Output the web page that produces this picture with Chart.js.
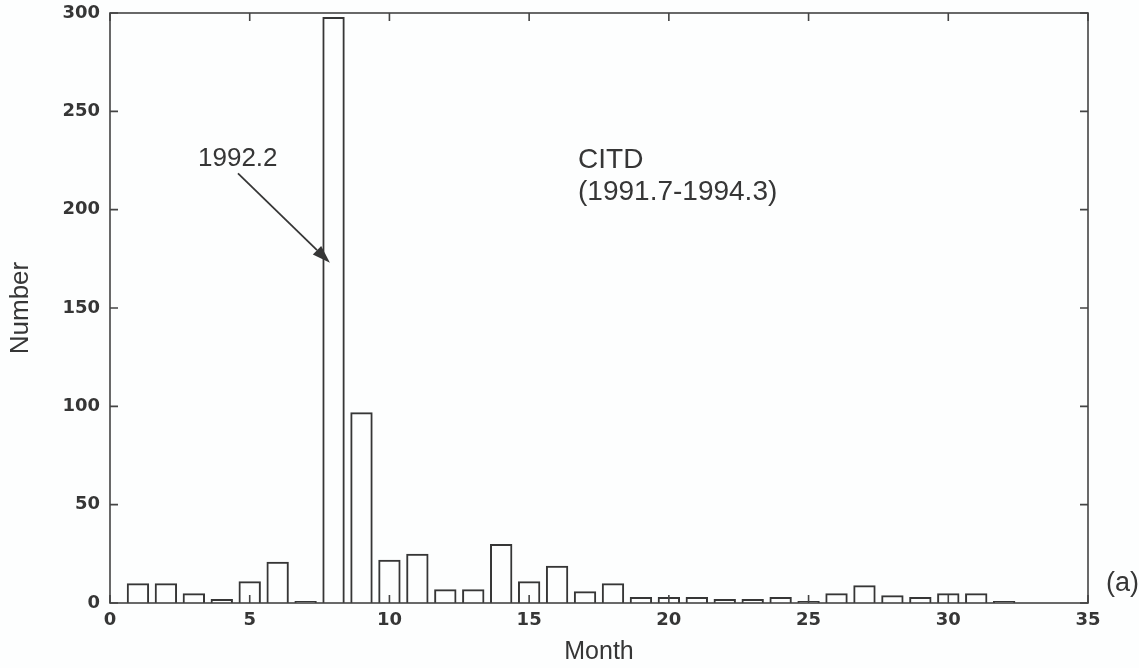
<!DOCTYPE html>
<html>
<head>
<meta charset="utf-8">
<script src="https://cdn.jsdelivr.net/npm/chart.js@4/dist/chart.umd.min.js"></script>
<style>
  html, body { margin: 0; padding: 0; background: #fdfefe; }
  #wrap { width: 1139px; height: 668px; position: relative; }
</style>
</head>
<body>
<div id="wrap"><canvas id="c" width="1139" height="668"></canvas></div>
<script>
// ---- data ----
const months = [1,2,3,4,5,6,7,8,9,10,11,12,13,14,15,16,17,18,19,20,21,22,23,24,25,26,27,28,29,30,31,32];
const counts = [10,10,5,2,11,21,1,298,97,22,25,7,7,30,11,19,6,10,3,3,3,2,2,3,1,5,9,4,3,5,5,1];
const xTickValues = [0,5,10,15,20,25,30,35];
const yTickValues = [0,50,100,150,200,250,300];
const peakLabel = "1992.2";
const periodLines = ["CITD", "(1991.7-1994.3)"];
const panelLabel = "(a)";
// annotation anchors in data units
const peakTextAt = [3.15, 226];
const arrowFrom = [4.58, 218.5];
const arrowTo = [7.87, 173];
const periodTextAt = [16.75, 225];

const INK = '#363636';

const framePlugin = {
  id: 'frame',
  afterDatasetsDraw(chart) {
    const {ctx, chartArea: a, scales: {x, y}} = chart;
    ctx.save();
    ctx.strokeStyle = '#444';
    ctx.lineWidth = 1.6;
    ctx.strokeRect(a.left, a.top, a.right - a.left, a.bottom - a.top);
    const tl = 8;
    ctx.beginPath();
    xTickValues.forEach(v => {
      const px = x.getPixelForValue(v);
      ctx.moveTo(px, a.bottom); ctx.lineTo(px, a.bottom - tl);
      ctx.moveTo(px, a.top); ctx.lineTo(px, a.top + tl);
    });
    yTickValues.forEach(v => {
      const py = y.getPixelForValue(v);
      ctx.moveTo(a.left, py); ctx.lineTo(a.left + tl, py);
      ctx.moveTo(a.right, py); ctx.lineTo(a.right - tl, py);
    });
    ctx.stroke();

    // annotations
    ctx.fillStyle = INK;
    ctx.font = '26px "Liberation Sans", Arial, sans-serif';
    ctx.textBaseline = 'middle';
    ctx.textAlign = 'left';
    ctx.fillText(peakLabel, x.getPixelForValue(peakTextAt[0]), y.getPixelForValue(peakTextAt[1]));

    ctx.font = '28px "Liberation Sans", Arial, sans-serif';
    const px0 = x.getPixelForValue(periodTextAt[0]);
    const py0 = y.getPixelForValue(periodTextAt[1]);
    periodLines.forEach((t, i) => ctx.fillText(t, px0, py0 + i * 32));

    ctx.font = '27px "Liberation Sans", Arial, sans-serif';
    ctx.fillText(panelLabel, a.right + 18, y.getPixelForValue(10));

    // arrow
    const x1 = x.getPixelForValue(arrowFrom[0]), y1 = y.getPixelForValue(arrowFrom[1]);
    const x2 = x.getPixelForValue(arrowTo[0]), y2 = y.getPixelForValue(arrowTo[1]);
    const ang = Math.atan2(y2 - y1, x2 - x1);
    const hl = 18, hw = 6;
    const bx = x2 - hl * Math.cos(ang), by = y2 - hl * Math.sin(ang);
    ctx.strokeStyle = INK;
    ctx.lineWidth = 1.8;
    ctx.beginPath(); ctx.moveTo(x1, y1); ctx.lineTo(bx, by); ctx.stroke();
    ctx.beginPath();
    ctx.moveTo(x2, y2);
    ctx.lineTo(bx + hw * Math.sin(ang), by - hw * Math.cos(ang));
    ctx.lineTo(bx - hw * Math.sin(ang), by + hw * Math.cos(ang));
    ctx.closePath(); ctx.fill();
    ctx.restore();
  }
};

new Chart(document.getElementById('c'), {
  type: 'bar',
  data: {
    datasets: [{
      data: months.map((m, i) => ({x: m, y: counts[i]})),
      backgroundColor: 'rgba(255,255,255,0)',
      borderColor: INK,
      borderWidth: 2,
      borderSkipped: 'start',
      categoryPercentage: 1.0,
      barPercentage: 0.8
    }]
  },
  options: {
    responsive: false,
    animation: false,
    devicePixelRatio: 1,
    layout: { padding: { top: 13, right: 51, left: 0, bottom: 0 } },
    plugins: { legend: { display: false }, tooltip: { enabled: false } },
    scales: {
      x: {
        type: 'linear',
        offset: false,
        min: 0, max: 35,
        afterBuildTicks(s) { s.ticks = xTickValues.map(v => ({value: v})); },
        afterFit(s) { s.height = 65; s.paddingLeft = 0; s.paddingRight = 0; },
        grid: { display: false, drawTicks: false },
        border: { display: false },
        ticks: { padding: 7, color: INK, font: { family: '"DejaVu Sans", sans-serif', size: 18, weight: 'bold' }, maxRotation: 0 },
        title: { display: true, text: 'Month', color: INK, font: { family: '"Liberation Sans", Arial, sans-serif', size: 25 }, padding: { top: 0, bottom: 1 } }
      },
      y: {
        min: 0, max: 300,
        afterBuildTicks(s) { s.ticks = yTickValues.map(v => ({value: v})); },
        afterFit(s) { s.width = 110; s.paddingTop = 0; s.paddingBottom = 0; },
        grid: { display: false, drawTicks: false },
        border: { display: false },
        ticks: { padding: 10, color: INK, font: { family: '"DejaVu Sans", sans-serif', size: 18, weight: 'bold' } },
        title: { display: true, text: 'Number', color: INK, font: { family: '"Liberation Sans", Arial, sans-serif', size: 26 }, padding: { top: 5, bottom: 0 } }
      }
    }
  },
  plugins: [framePlugin]
});
</script>
</body>
</html>
